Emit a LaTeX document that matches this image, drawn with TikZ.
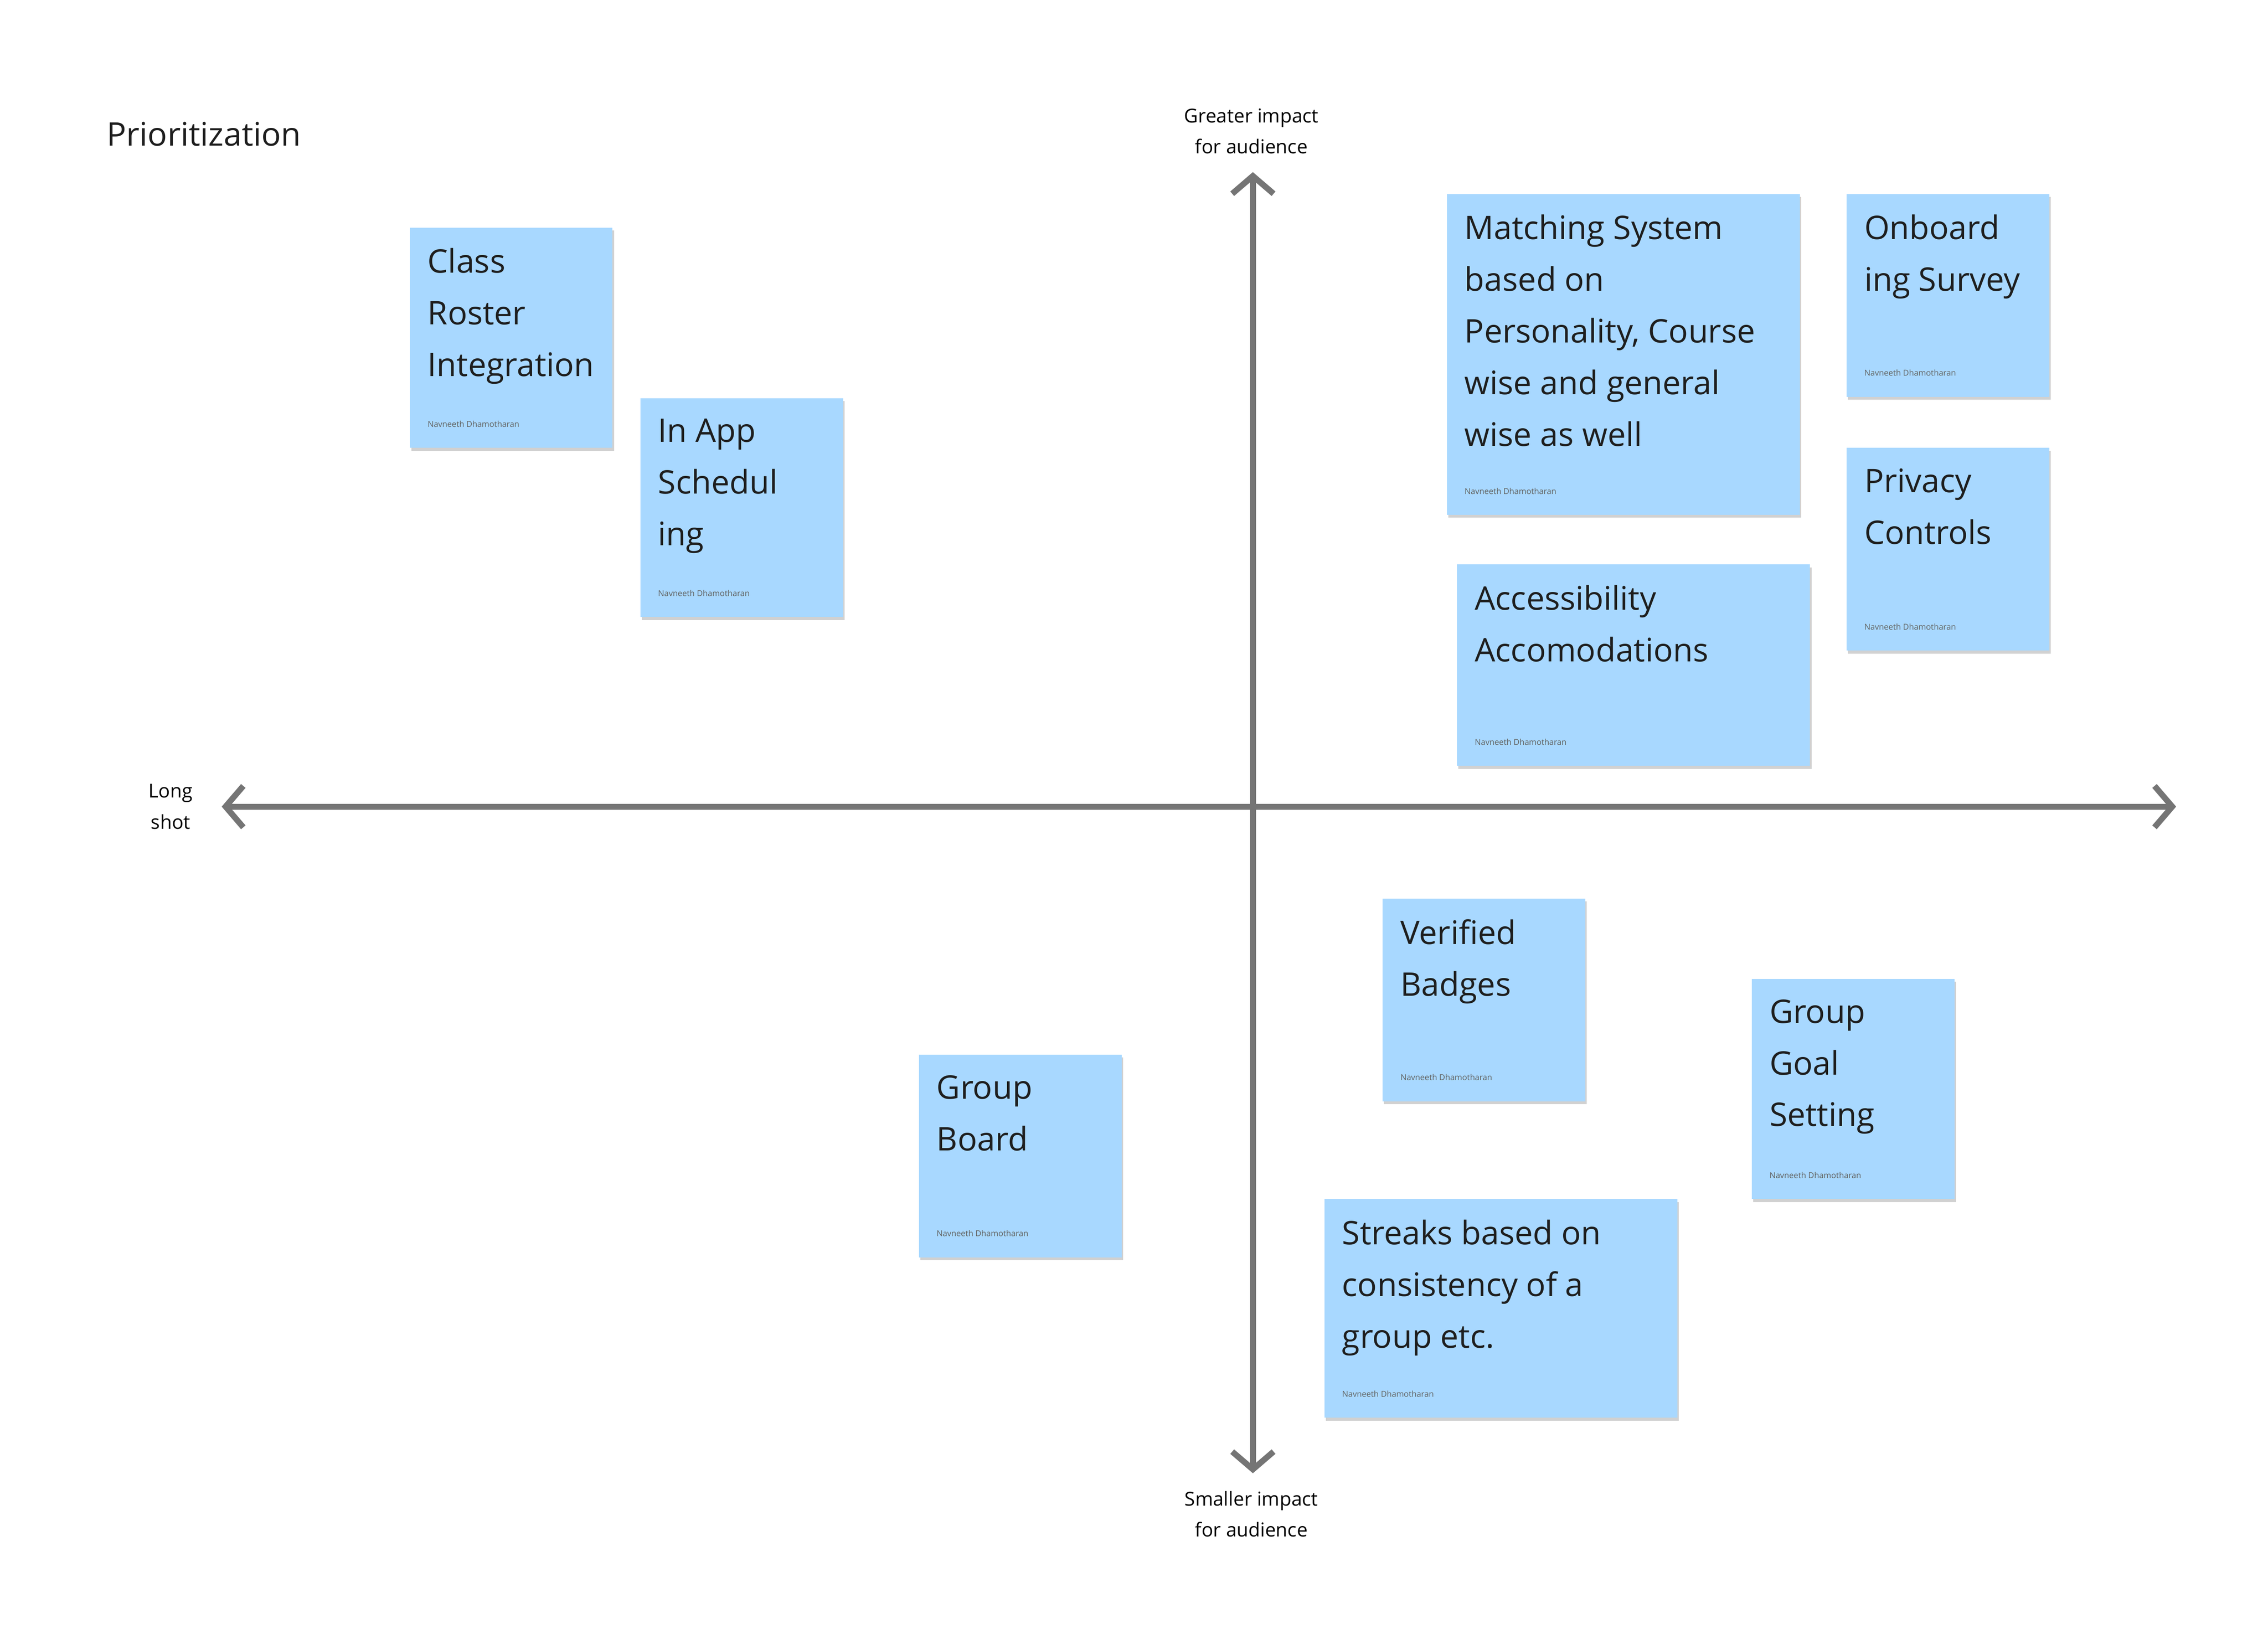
\documentclass[tikz,border=0pt]{standalone}
\usepackage{fontspec}
\setmainfont{Open Sans}
\usetikzlibrary{arrows.meta}
\definecolor{sticky}{HTML}{A8D8FF}
\definecolor{axis}{HTML}{757575}
\definecolor{ink}{HTML}{1E1E1E}
\begin{document}
\begin{tikzpicture}[x=0.03472cm,y=-0.03472cm,
  notetext/.style={anchor=north west,inner sep=0pt,align=left,text=ink,font=\fontsize{22}{35}\selectfont},
  author/.style={anchor=south west,inner sep=0pt,text=ink!70,font=\fontsize{5.5}{6}\selectfont},
  lab/.style={align=center,inner sep=0pt,text=black,font=\fontsize{13}{21}\selectfont},
  ax/.style={draw=axis,line width=4pt,{Straight Barb[length=12pt,width=28pt,line width=4pt]}-{Straight Barb[length=12pt,width=28pt,line width=4pt]}}]
\useasboundingbox (0,0) rectangle (1555,1120);
\fill[white] (0,0) rectangle (1555,1120);
\node[anchor=west,inner sep=0pt,font=\fontsize{22}{26}\selectfont,text=ink] (title) at (73,92) {Prioritization};
\coordinate (top) at (859,118);
\coordinate (bot) at (859,1010);
\coordinate (left) at (152,553);
\coordinate (right) at (1492,553);
\draw[ax] (top) -- (bot);
\draw[ax] (left) -- (right);
\node[lab] (lt) at (858,90) {Greater impact\\for audience};
\node[lab] (ll) at (117,553) {Long\\shot};
\node[lab] (lb) at (858,1038) {Smaller impact\\for audience};
\newcommand\sticky[6]{%
  \fill[black!18] (#2+1,#3+2) rectangle (#4+1,#5+2);
  \fill[sticky] (#2,#3) rectangle (#4,#5);
  \node[notetext] (#1) at (#2+12,#3+14) {#6};
  \node[author] (#1n) at (#2+12,#5-14) {Navneeth Dhamotharan};}
\sticky{a}{281}{156}{420}{307}{Class\\Roster\\Integration}
\sticky{b}{439}{273}{578}{423}{In App\\Schedul\\ing}
\sticky{c}{992}{133}{1234}{353}{Matching System\\based on\\Personality, Course\\wise and general\\wise as well}
\sticky{d}{1266}{133}{1405}{272}{Onboard\\ing Survey}
\sticky{e}{1266}{307}{1405}{446}{Privacy\\Controls}
\sticky{f}{999}{387}{1241}{525}{Accessibility\\Accomodations}
\sticky{g}{948}{616}{1087}{755}{Verified\\Badges}
\sticky{h}{1201}{671}{1340}{822}{Group\\Goal\\Setting}
\sticky{i}{630}{723}{769}{862}{Group\\Board}
\sticky{j}{908}{822}{1150}{972}{Streaks based on\\consistency of a\\group etc.}
\end{tikzpicture}
\end{document}
